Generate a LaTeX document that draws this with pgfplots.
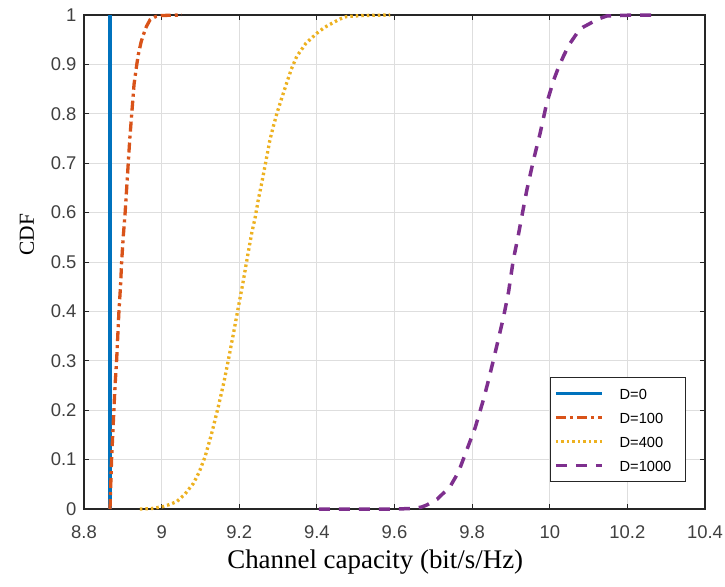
\documentclass[border=0pt]{standalone}
\usepackage{fontspec}
\setmainfont{Liberation Serif}
\setsansfont{Liberation Sans}
\usepackage{pgfplots}
\pgfplotsset{compat=1.18}
\definecolor{mblue}{rgb}{0,0.447,0.741}
\definecolor{morange}{rgb}{0.85,0.325,0.098}
\definecolor{myellow}{rgb}{0.929,0.694,0.125}
\definecolor{mpurple}{rgb}{0.494,0.184,0.556}
\definecolor{tickgray}{rgb}{0.25,0.25,0.25}
\definecolor{axgray}{rgb}{0.15,0.15,0.15}
\begin{document}
\begin{tikzpicture}
\path[use as bounding box] (-84bp,-78bp) rectangle (641bp,509bp);
\begin{axis}[
  scale only axis,
  width=621bp, height=494bp,
  xmin=8.8, xmax=10.4, ymin=0, ymax=1,
  xtick={8.8,9,9.2,9.4,9.6,9.8,10,10.2,10.4},
  ytick={0,0.1,0.2,0.3,0.4,0.5,0.6,0.7,0.8,0.9,1},
  xticklabel={\pgfmathprintnumber[fixed,precision=1,assume math mode=true]{\tick}},
  yticklabel={\pgfmathprintnumber[fixed,precision=1,assume math mode=true]{\tick}},
  ticklabel style={font=\fontsize{18.5}{20}\selectfont\sffamily, text=tickgray},
  xticklabel style={anchor=base, yshift=-29bp},
  yticklabel style={anchor=east, xshift=-4bp},
  tick align=inside,
  major tick length=5bp,
  tick style={axgray, line width=0.8bp},
  axis line style={axgray, line width=1.1bp},
  grid=major,
  major grid style={black!13, line width=0.8bp},
  clip=false,
  xlabel={Channel capacity (bit/s/Hz)},
  ylabel={CDF},
  xlabel style={at={(axis description cs:0.469,0)}, anchor=base, yshift=-59bp, font=\fontsize{27}{30}\selectfont},
  ylabel style={at={(axis description cs:0,0.555)}, anchor=center, rotate=0, xshift=0bp, yshift=57bp, font=\fontsize{21.5}{24}\selectfont},
  legend image code/.code={\draw[#1] (4bp,0bp) -- (50bp,0bp); \path[draw=none,fill=none] (0bp,-5bp) rectangle (50bp,5bp);},
  legend style={at={(rel axis cs:0.969,0.0547)}, anchor=south east,
    draw=axgray, line width=0.8bp, fill=white,
    font=\fontsize{14.7}{16}\selectfont\sffamily,
    inner xsep=1bp, inner ysep=10.5bp,
    nodes={inner sep=0bp, text height=11bp, text depth=0bp},
    row sep=13bp, column sep=16bp},
  legend cell align=left,
]
\addplot[mblue, line width=3.3bp] coordinates {(8.867,0) (8.867,1)};
\addlegendentry{D=0\hspace*{13bp}}
\addplot[morange, line width=3.3bp, dash pattern=on 10bp off 4bp on 3bp off 4bp] coordinates {
(8.867,0) (8.869,0.05) (8.871,0.1) (8.874,0.15) (8.877,0.2) (8.880,0.25)
(8.884,0.3) (8.887,0.35) (8.890,0.4) (8.894,0.45) (8.897,0.5) (8.901,0.55)
(8.906,0.6) (8.910,0.65) (8.914,0.7) (8.918,0.75) (8.923,0.8) (8.929,0.86)
(8.936,0.9) (8.940,0.92) (8.947,0.945) (8.953,0.96) (8.961,0.977) (8.970,0.99)
(8.985,0.997) (9.000,0.999) (9.052,1)};
\addlegendentry{D=100\hspace*{13bp}}
\addplot[myellow, line width=3.3bp, dash pattern=on 2.5bp off 3bp] coordinates {
(8.944,0) (8.975,0.001) (9.004,0.005) (9.020,0.009) (9.039,0.015) (9.060,0.03)
(9.082,0.052) (9.097,0.075) (9.112,0.106) (9.128,0.15) (9.146,0.207) (9.160,0.255)
(9.172,0.302) (9.185,0.355) (9.198,0.41) (9.210,0.46) (9.221,0.51) (9.232,0.558)
(9.241,0.59) (9.249,0.626) (9.258,0.66) (9.266,0.693) (9.279,0.747) (9.288,0.775)
(9.297,0.801) (9.310,0.833) (9.322,0.862) (9.334,0.89) (9.348,0.916) (9.372,0.943)
(9.400,0.963) (9.420,0.975) (9.443,0.985) (9.460,0.992) (9.477,0.997) (9.52,0.999)
(9.589,1)};
\addlegendentry{D=400\hspace*{13bp}}
\addplot[mpurple, line width=3.5bp, dash pattern=on 11bp off 9bp] coordinates {
(9.405,0) (9.600,0) (9.649,0.001) (9.670,0.004) (9.683,0.008) (9.710,0.02)
(9.743,0.045) (9.765,0.075) (9.786,0.119) (9.808,0.165) (9.829,0.221) (9.842,0.26)
(9.855,0.302) (9.868,0.345) (9.881,0.389) (9.894,0.44) (9.906,0.504) (9.918,0.55)
(9.928,0.592) (9.941,0.646) (9.958,0.706) (9.975,0.76) (9.992,0.821) (10.010,0.868)
(10.022,0.893) (10.035,0.916) (10.050,0.94) (10.070,0.963) (10.085,0.975) (10.104,0.983)
(10.125,0.992) (10.147,0.998) (10.20,0.9995) (10.284,1)};
\addlegendentry{D=1000\hspace*{13bp}}
\end{axis}
\end{tikzpicture}
\end{document}
